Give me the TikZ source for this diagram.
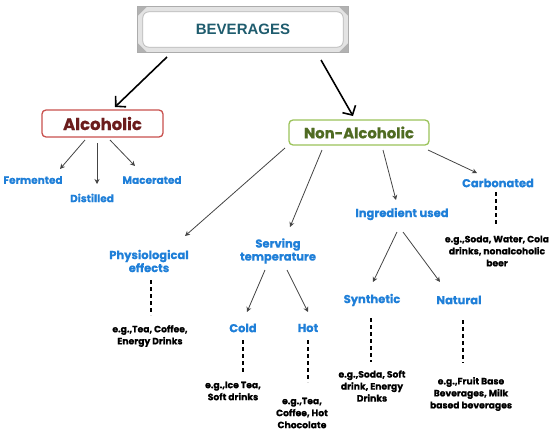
\documentclass[tikz,border=0pt]{standalone}
\usepackage{fontspec}
\setmainfont{Poppins}[BoldFeatures={FakeBold=0.6}]
\newfontfamily\titlefont{Liberation Sans}
\usetikzlibrary{arrows.meta}
\definecolor{lblue}{HTML}{1F7FD8}
\definecolor{alcred}{HTML}{C8504D}
\definecolor{alctext}{HTML}{6B1D1D}
\definecolor{nongreen}{HTML}{9BC35A}
\definecolor{nontext}{HTML}{4F6B22}
\definecolor{bevtext}{HTML}{1F5C6E}
\definecolor{arrgray}{HTML}{444444}
\tikzset{
  bluelab/.style={text=lblue, font=\bfseries\fontsize{11.5}{13}\selectfont, align=center, inner sep=0pt},
  smallblue/.style={text=lblue, font=\bfseries\fontsize{10.5}{12}\selectfont, align=center, inner sep=0pt},
  extext/.style={text=black, font=\bfseries\fontsize{9.2}{12}\selectfont, align=center, inner sep=0pt},
  thinarr/.style={draw=arrgray, line width=0.8pt, -{Stealth[length=5pt,width=5pt]}},
  bigarr/.style={draw=black, line width=1.6pt, -{Straight Barb[length=7pt,width=15pt,line width=1.6pt]}},
  dashline/.style={draw=black, line width=1.3pt, dash pattern=on 4pt off 3pt},
  catbox/.style={rounded corners=4pt, line width=1.3pt, fill=white, inner sep=0pt}
}
\begin{document}
\begin{tikzpicture}[x=1pt,y=-1pt]
\useasboundingbox (0,0) rectangle (550,434);
% title box
\node[minimum width=210pt, minimum height=45pt, inner sep=0pt] (bev) at (243,29.5) {};
\fill[gray!22] (bev.north west) rectangle (bev.south east);
\draw[gray!65, line width=0.8pt] (bev.north west) rectangle (bev.south east);
\fill[gray!60] (bev.north west) -- ++(9,0) -- ++(-9,9) -- cycle;
\fill[gray!60] (bev.north east) -- ++(-9,0) -- ++(9,9) -- cycle;
\fill[gray!60] (bev.south west) -- ++(9,0) -- ++(-9,-9) -- cycle;
\fill[gray!60] (bev.south east) -- ++(-9,0) -- ++(9,-9) -- cycle;
\draw[gray!55, fill=white, line width=0.8pt, rounded corners=6pt] ([xshift=5pt,yshift=-5pt]bev.north west) rectangle ([xshift=-5pt,yshift=5pt]bev.south east);
\node[text=bevtext, font=\titlefont\bfseries\fontsize{15}{17}\selectfont] at (bev.center) {BEVERAGES};
% category boxes
\node[catbox, draw=alcred, text=alctext, font=\bfseries\fontsize{16.5}{18}\selectfont, minimum width=121pt, minimum height=27pt] (alc) at (102.5,123.5) {Alcoholic};
\node[catbox, draw=nongreen, text=nontext, font=\bfseries\fontsize{14.8}{17}\selectfont, minimum width=140pt, minimum height=25pt] (non) at (359,132.5) {Non-Alcoholic};
% alcoholic children
\node[smallblue] (ferm) at (33,180) {Fermented};
\node[smallblue] (dist) at (92,198) {Distilled};
\node[smallblue] (mac) at (152,180) {Macerated};
% non-alcoholic children
\node[bluelab] (phys) at (149,261) {Physiological\\effects};
\node[bluelab] (serv) at (278,251) {Serving\\temperature};
\node[bluelab] (ing) at (402,214) {Ingredient used};
\node[bluelab] (carb) at (498,183) {Carbonated};
\node[bluelab] (cold) at (243,328) {Cold};
\node[bluelab] (hot) at (308,328) {Hot};
\node[bluelab] (syn) at (372,300) {Synthetic};
\node[bluelab] (nat) at (459,300) {Natural};
% examples
\node[extext] (physex) at (150,336) {e.g.,Tea, Coffee,\\Energy Drinks};
\node[extext] (coldex) at (233,391) {e.g.,Ice Tea,\\Soft drinks};
\node[extext] (hotex) at (302,413) {e.g.,Tea,\\Coffee, Hot\\Chocolate};
\node[extext] (synex) at (372,386) {e.g.,Soda, Soft\\drink, Energy\\Drinks};
\node[extext] (natex) at (471,394) {e.g.,Fruit Base\\Beverages, Milk\\based beverages};
\node[extext] (carbex) at (497,251) {e.g.,Soda, Water, Cola\\drinks, nonalcoholic\\beer};
% big arrows
\draw[bigarr] ([xshift=-76pt,yshift=-27.5pt]bev.center) -- ([xshift=12.5pt,yshift=16.5pt]alc.center);
\draw[bigarr] ([xshift=78pt,yshift=-30.5pt]bev.center) -- ([xshift=-6pt,yshift=16.5pt]non.center);
% alcoholic arrows
\draw[thinarr] ([xshift=-17.5pt,yshift=-16.5pt]alc.center) -- ([xshift=27pt,yshift=11pt]ferm.center);
\draw[thinarr] ([xshift=-5.5pt,yshift=-19.5pt]alc.center) -- ([xshift=5pt,yshift=14pt]dist.center);
\draw[thinarr] ([xshift=7.5pt,yshift=-16.5pt]alc.center) -- ([xshift=-17pt,yshift=14pt]mac.center);
% non-alcoholic arrows
\draw[thinarr] ([xshift=-74pt,yshift=-15.5pt]non.center) -- ([xshift=36pt,yshift=25pt]phys.center);
\draw[thinarr] ([xshift=-37pt,yshift=-17.5pt]non.center) -- ([xshift=12pt,yshift=24pt]serv.center);
\draw[thinarr] ([xshift=24pt,yshift=-17.5pt]non.center) -- ([xshift=-6pt,yshift=14pt]ing.center);
\draw[thinarr] ([xshift=69pt,yshift=-17.5pt]non.center) -- ([xshift=-21pt,yshift=10pt]carb.center);
% serving arrows
\draw[thinarr] ([xshift=-13pt,yshift=-19pt]serv.center) -- ([xshift=4pt,yshift=16pt]cold.center);
\draw[thinarr] ([xshift=9pt,yshift=-19pt]serv.center) -- ([xshift=0pt,yshift=16pt]hot.center);
% ingredient arrows
\draw[thinarr] ([xshift=-5pt,yshift=-18pt]ing.center) -- ([xshift=1pt,yshift=18pt]syn.center);
\draw[thinarr] ([xshift=1pt,yshift=-18pt]ing.center) -- ([xshift=-19pt,yshift=18pt]nat.center);
% dashed
\draw[dashline] ([xshift=2pt,yshift=-19pt]phys.center) -- ([xshift=1pt,yshift=21pt]physex.center);
\draw[dashline] ([xshift=0pt,yshift=-12pt]cold.center) -- ([xshift=10pt,yshift=18pt]coldex.center);
\draw[dashline] ([xshift=0pt,yshift=-12pt]hot.center) -- ([xshift=6pt,yshift=31pt]hotex.center);
\draw[dashline] ([xshift=-1pt,yshift=-18pt]syn.center) -- ([xshift=-1pt,yshift=24pt]synex.center);
\draw[dashline] ([xshift=4pt,yshift=-20pt]nat.center) -- ([xshift=-8pt,yshift=31pt]natex.center);
\draw[dashline] ([xshift=-2pt,yshift=-9pt]carb.center) -- ([xshift=-1pt,yshift=26pt]carbex.center);
\end{tikzpicture}
\end{document}
